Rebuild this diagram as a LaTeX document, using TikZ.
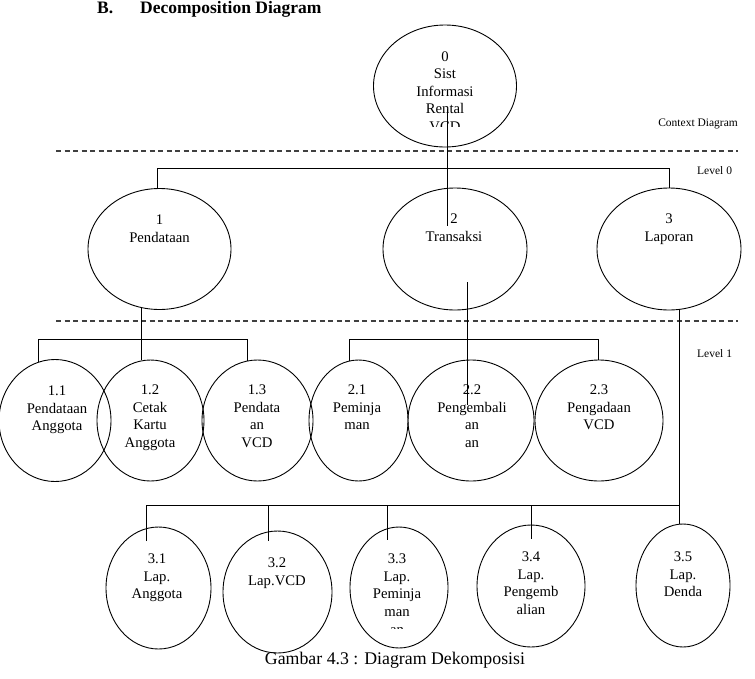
\documentclass[tikz,border=0pt]{standalone}
\usepackage{fontspec}
\setmainfont{Liberation Serif}
\usetikzlibrary{shapes.geometric,calc}
\begin{document}
\begin{tikzpicture}[x=1pt,y=-1pt,
  proc/.style={draw, ellipse, line width=0.9pt, inner sep=0pt},
  txt/.style={font=\fontsize{14.7}{17.6}\selectfont, align=center, inner sep=0pt, anchor=north},
  conn/.style={line width=0.9pt},
  sepline/.style={line width=1.1pt, black!75, dash pattern=on 5pt off 3.5pt},
  lvl/.style={font=\fontsize{11.5}{13}\selectfont, inner sep=0pt, anchor=base west}]
\useasboundingbox (0,0) rectangle (755,678);

% title
\node[anchor=base west, inner sep=0pt, font=\bfseries\fontsize{17.5}{20}\selectfont] (tb) at (97,13) {B.};
\node[anchor=base west, inner sep=0pt, font=\bfseries\fontsize{17.5}{20}\selectfont] (td) at (140,13) {Decomposition Diagram};

% ellipses
\node[proc, minimum width=143pt, minimum height=122pt] (e0) at (445,86) {};
\node[proc, minimum width=143pt, minimum height=121pt] (e1) at (159.5,249) {};
\node[proc, minimum width=144pt, minimum height=122pt] (e2) at (455,249) {};
\node[proc, minimum width=144pt, minimum height=122pt] (e3) at (669,249) {};
\node[proc, minimum width=112pt, minimum height=122pt] (e11) at (55,420.5) {};
\node[proc, minimum width=107pt, minimum height=121pt] (e12) at (150.5,420.5) {};
\node[proc, minimum width=111pt, minimum height=121pt] (e13) at (257.5,420.5) {};
\node[proc, minimum width=99pt, minimum height=121pt] (e21) at (358.5,420.5) {};
\node[proc, minimum width=126pt, minimum height=121pt] (e22) at (471,420.5) {};
\node[proc, minimum width=128pt, minimum height=121pt] (e23) at (599,420.5) {};
\node[proc, minimum width=105pt, minimum height=122pt] (e31) at (158.5,588) {};
\node[proc, minimum width=109pt, minimum height=122pt] (e32) at (277.5,592) {};
\node[proc, minimum width=98pt, minimum height=121pt] (e33) at (399,587.5) {};
\node[proc, minimum width=108pt, minimum height=122pt] (e34) at (531,586) {};
\node[proc, minimum width=94pt, minimum height=123pt] (e35) at (683,585.5) {};

% texts
\begin{scope}
\clip (300,0) rectangle (600,126);
\node[txt] (t0) at (445,48.5) {\strut 0\\Sist\\Informasi\\Rental\\VCD};
\end{scope}
\node[txt] (t1) at (159.5,212.2) {\strut 1\\Pendataan};
\node[txt] (t2) at (454,211.2) {\strut 2\\Transaksi};
\node[txt] (t3) at (669,211.2) {\strut 3\\Laporan};
\node[txt] (t11) at (57,383.2) {\strut 1.1\\Pendataan\\Anggota};
\node[txt] (t12) at (150,382.2) {\strut 1.2\\Cetak\\Kartu\\Anggota};
\node[txt] (t13) at (257,382.2) {\strut 1.3\\Pendata\\an\\VCD};
\node[txt] (t21) at (357,382.2) {\strut 2.1\\Peminja\\man};
\node[txt] (t22) at (472,382.2) {\strut 2.2\\Pengembali\\an\\an};
\node[txt] (t23) at (599,382.2) {\strut 2.3\\Pengadaan\\VCD};
\node[txt] (t31) at (157,551.2) {\strut 3.1\\Lap.\\Anggota};
\node[txt] (t32) at (277,555.2) {\strut 3.2\\Lap.VCD};
\begin{scope}
\clip (340,500) rectangle (460,628);
\node[txt] (t33) at (397,551.2) {\strut 3.3\\Lap.\\Peminja\\man\\an};
\end{scope}
\node[txt] (t34) at (531,549.2) {\strut 3.4\\Lap.\\Pengemb\\alian};
\node[txt] (t35) at (683,549.2) {\strut 3.5\\Lap.\\Denda};

% level labels
\node[lvl, anchor=base east] (lc) at (738,126) {Context Diagram};
\node[lvl] (l0) at (697,174) {Level 0};
\node[lvl] (l1) at (697,357) {Level 1};

% separators
\coordinate (d1l) at (56,151); \coordinate (d1r) at (738,151);
\coordinate (d2l) at (56,321); \coordinate (d2r) at (738,321);
\draw[sepline] (d1l) -- (d1r);
\draw[sepline] (d2l) -- (d2r);

% connectors
\coordinate (a0) at (447,109); \coordinate (a0e) at (447,226);
\draw[conn] (a0) -- (a0e);
\coordinate (b0l) at (157,168); \coordinate (b0r) at (669,168);
\draw[conn] (e1.north -| b0l) -- (b0l) -- (b0r) -- (e3.north);

\coordinate (b1m) at (141,339); \coordinate (b1l) at (38,339); \coordinate (b1r) at (247,339);
\draw[conn] ($(e1.south -| b1m)+(0,-1.5)$) -- (e12.north -| b1m);
\draw[conn] ($(e11.north -| b1l)+(0,3)$) -- (b1l) -- (b1r) -- ($(e13.north -| b1r)+(0,1)$);

\coordinate (b2l) at (349,339); \coordinate (b2r) at (598,339);
\draw[conn] ($(e21.north -| b2l)+(0,1)$) -- (b2l) -- (b2r) -- (e23.north -| b2r);

\coordinate (a2) at (467,282); \coordinate (a2e) at (467,405);
\draw[conn] (a2) -- (a2e);

\coordinate (b3l) at (146,505); \coordinate (b3r) at (679,505);
\draw[conn] ($(e3.south -| b3r)+(0,-0.5)$) -- (e35.north -| b3r);
\coordinate (c31) at (146,541);
\draw[conn] (c31) -- (b3l) -- (b3r);
\coordinate (b32) at (268,505); \coordinate (c32) at (268,541);
\coordinate (b33) at (387,505); \coordinate (c33) at (387,540);
\coordinate (b34) at (531,505); \coordinate (c34) at (531,539);
\draw[conn] (b32) -- (c32);
\draw[conn] (b33) -- (c33);
\draw[conn] (b34) -- (c34);

% caption
\node[anchor=base, inner sep=0pt, font=\fontsize{17.8}{20}\selectfont] (cap) at (395,664) {Gambar 4.3 : Diagram Dekomposisi};
\end{tikzpicture}
\end{document}
